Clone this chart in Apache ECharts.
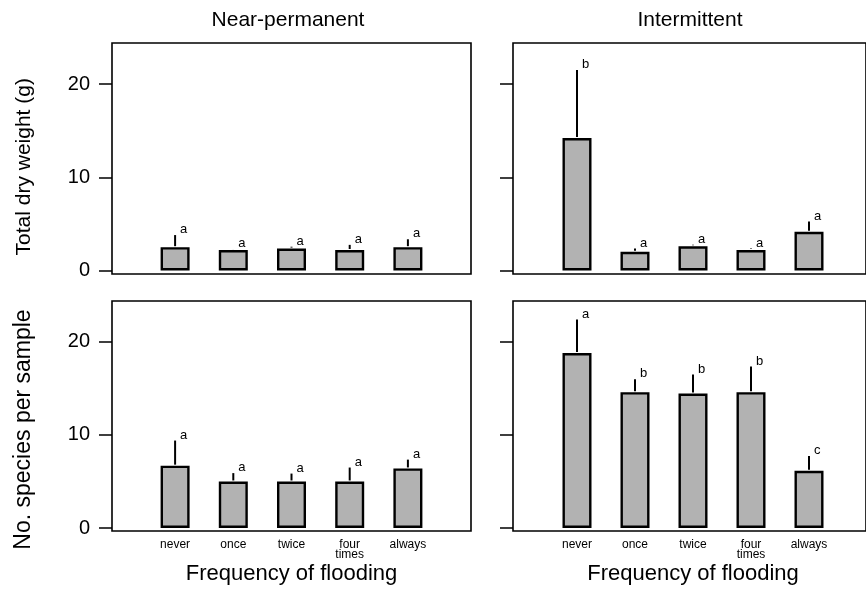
<!DOCTYPE html>
<html>
<head>
<meta charset="utf-8">
<script src="https://cdn.jsdelivr.net/npm/echarts@6/dist/echarts.min.js"></script>
<style>
  html, body { margin: 0; padding: 0; background: #fff; }
  #chart { width: 866px; height: 592px; }
</style>
</head>
<body>
<div id="chart"></div>
<script>
// categories and tick values
var categories = ['never', 'once', 'twice', 'four\ntimes', 'always'];
var yTicks = [0, 10, 20];

// Total dry weight (g): mean and upper error
var weightNear = [2.5, 2.2, 2.35, 2.2, 2.5];
var weightNearErr = [1.3, 0.1, 0.2, 0.55, 0.85];
var weightNearLetters = ['a', 'a', 'a', 'a', 'a'];
var weightInt = [14.2, 2.0, 2.6, 2.2, 4.15];
var weightIntErr = [7.3, 0.35, 0.15, 0.15, 1.1];
var weightIntLetters = ['b', 'a', 'a', 'a', 'a'];

// No. species per sample
var speciesNear = [6.7, 5.0, 5.0, 5.0, 6.4];
var speciesNearErr = [2.7, 0.9, 0.85, 1.5, 0.95];
var speciesNearLetters = ['a', 'a', 'a', 'a', 'a'];
var speciesInt = [18.8, 14.6, 14.45, 14.6, 6.15];
var speciesIntErr = [3.6, 1.4, 2.05, 2.75, 1.6];
var speciesIntLetters = ['a', 'b', 'b', 'b', 'c'];

var FONT = 'Liberation Sans, Arial, Helvetica, sans-serif';
var chart = echarts.init(document.getElementById('chart'), null, { renderer: 'canvas' });

// panel layout: box = framed area, bars = category band area inside it
var panels = [
    { box: [112, 43, 359, 231], bars: [146, 43, 291, 227.5], vals: weightNear, errs: weightNearErr, letters: weightNearLetters, yName: 'Total dry weight (g)', nameSize: 21, nameShift: 20, left: true, bottom: false },
    { box: [513, 43, 359, 231], bars: [548, 43, 290, 227.5], vals: weightInt, errs: weightIntErr, letters: weightIntLetters, yName: '', nameSize: 21, nameShift: 0, left: false, bottom: false },
    { box: [112, 301, 359, 230], bars: [146, 301, 291, 227], vals: speciesNear, errs: speciesNearErr, letters: speciesNearLetters, yName: 'No. species per sample', nameSize: 23, nameShift: 30, left: true, bottom: true },
    { box: [513, 301, 359, 230], bars: [548, 301, 290, 227], vals: speciesInt, errs: speciesIntErr, letters: speciesIntLetters, yName: '', nameSize: 21, nameShift: 0, left: false, bottom: true }
];

var grid = [], xAxis = [], yAxis = [], series = [];
panels.forEach(function (p, k) {
    var gb = k * 2, gi = k * 2 + 1;
    grid.push({
        left: p.box[0], top: p.box[1], width: p.box[2], height: p.box[3],
        show: true, borderColor: '#000', borderWidth: 1.6, backgroundColor: 'transparent'
    });
    grid.push({
        left: p.bars[0], top: p.bars[1], width: p.bars[2], height: p.bars[3]
    });
    xAxis.push({ gridIndex: gb, type: 'value', show: false });
    yAxis.push({ gridIndex: gb, type: 'value', show: false });
    xAxis.push({
        gridIndex: gi,
        type: 'category',
        data: categories,
        axisLine: { show: false },
        axisTick: { show: false },
        axisLabel: {
            show: p.bottom,
            interval: 0,
            margin: 12,
            color: '#000',
            fontFamily: FONT,
            fontSize: 12,
            lineHeight: 10
        },
        name: p.bottom ? 'Frequency of flooding' : '',
        nameLocation: 'middle',
        nameGap: 35,
        nameTextStyle: { color: '#000', fontFamily: FONT, fontSize: 22 }
    });
    yAxis.push({
        gridIndex: gi,
        type: 'value',
        min: 0,
        max: 24.4,
        offset: p.bars[0] - p.box[0],
        splitLine: { show: false },
        axisLine: { show: false },
        axisTick: {
            show: true,
            length: 13,
            customValues: yTicks,
            lineStyle: { color: '#000', width: 1.5 }
        },
        axisLabel: {
            show: p.left,
            customValues: yTicks,
            margin: 22,
            color: '#000',
            fontFamily: FONT,
            fontSize: 20
        },
        name: p.yName,
        nameLocation: 'middle',
        nameGap: 77,
        // rotated title: right padding pushes it down the page
        nameTextStyle: { color: '#000', fontFamily: FONT, fontSize: p.nameSize, padding: [0, p.nameShift, 0, 0] }
    });
    series.push({
        type: 'bar',
        xAxisIndex: gi,
        yAxisIndex: gi,
        barWidth: 29,
        silent: true,
        itemStyle: { color: '#b2b2b2', borderColor: '#000', borderWidth: 2.4 },
        data: p.vals
    });
    var letters = p.letters;
    series.push({
        type: 'custom',
        xAxisIndex: gi,
        yAxisIndex: gi,
        clip: false,
        silent: true,
        data: p.vals.map(function (v, i) { return [i, v, p.errs[i]]; }),
        encode: { x: 0, y: 1 },
        renderItem: function (params, api) {
            var i = api.value(0), m = api.value(1), e = api.value(2);
            var p0 = api.coord([i, m]);
            var p1 = api.coord([i, m + e]);
            return {
                type: 'group',
                children: [
                    {
                        type: 'line',
                        shape: { x1: p0[0], y1: p0[1] - 1, x2: p1[0], y2: p1[1] },
                        style: { stroke: '#000', lineWidth: 2 }
                    },
                    {
                        type: 'text',
                        x: p1[0] + 5,
                        y: p1[1] + 1,
                        style: {
                            text: letters[i],
                            fill: '#000',
                            font: '13px ' + FONT,
                            align: 'left',
                            verticalAlign: 'bottom',
                            textAlign: 'left',
                            textVerticalAlign: 'bottom'
                        }
                    }
                ]
            };
        }
    });
});

chart.setOption({
    animation: false,
    backgroundColor: '#fff',
    grid: grid,
    xAxis: xAxis,
    yAxis: yAxis,
    series: series,
    graphic: [
        { type: 'text', x: 288, y: 10, style: { text: 'Near-permanent', fill: '#000', font: '21px ' + FONT, align: 'center', textAlign: 'center' } },
        { type: 'text', x: 690, y: 10, style: { text: 'Intermittent', fill: '#000', font: '21px ' + FONT, align: 'center', textAlign: 'center' } }
    ]
});
</script>
</body>
</html>
